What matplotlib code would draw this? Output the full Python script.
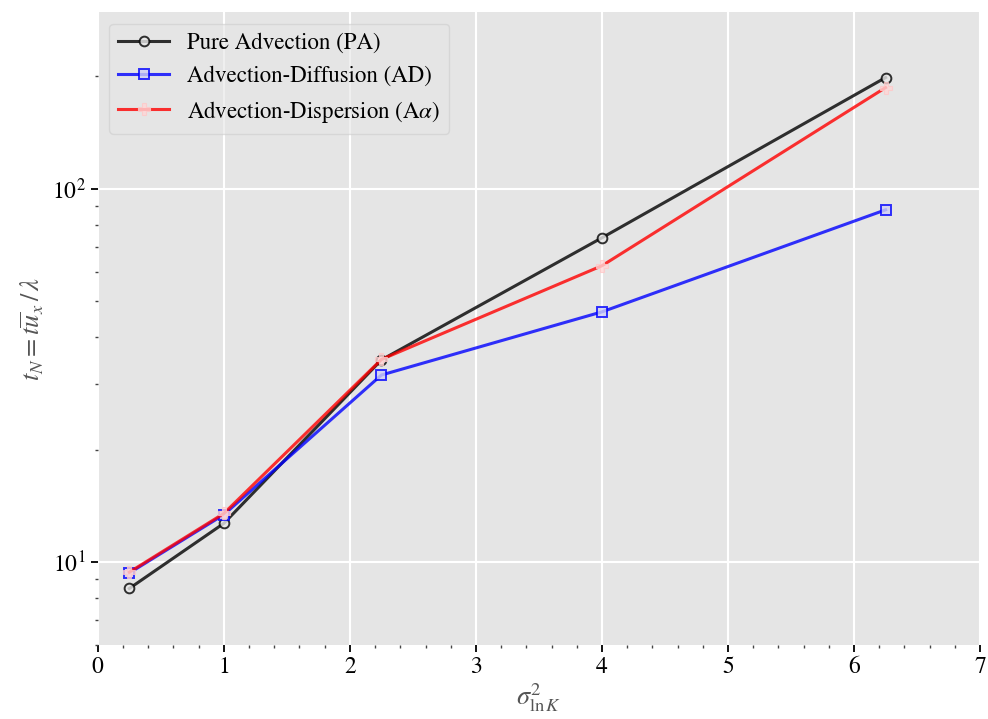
import matplotlib

matplotlib.use("Agg")
import matplotlib.pyplot as plt
from matplotlib.ticker import AutoMinorLocator, LogLocator, NullFormatter

plt.rcParams["font.family"] = ["STIXGeneral", "DejaVu Serif"]
plt.rcParams["mathtext.fontset"] = "stix"

fs = 17

sigma2 = [0.25, 1.0, 2.25, 4.0, 6.25]
t_pa = [8.5, 12.7, 34.8, 73.9, 198.5]
t_ad = [9.35, 13.4, 31.7, 46.8, 87.8]
t_aa = [9.4, 13.5, 34.9, 62.2, 186.6]

fig, ax = plt.subplots(figsize=(9.88, 7.19), dpi=100)
ax.set_facecolor("#e5e5e5")
for s in ax.spines.values():
    s.set_visible(False)
ax.grid(True, which="major", color="white", lw=1.5)
ax.set_axisbelow(True)

ax.plot(sigma2, t_pa, "-o", color="black", alpha=0.8, lw=2.2, ms=7,
        mfc="#e8e8e8", mec="black", mew=1.4, label="Pure Advection (PA)")
ax.plot(sigma2, t_ad, "-s", color="blue", alpha=0.8, lw=2.2, ms=7,
        mfc="#d0d0f5", mec="blue", mew=1.4, label="Advection-Diffusion (AD)")
ax.plot(sigma2, t_aa, "-P", color="red", alpha=0.8, lw=2.2, ms=8,
        mfc="#ffd6d6", mec="#ffc8c8", mew=0.8, label=r"Advection-Dispersion (A$\alpha$)")

ax.set_yscale("log")
ax.set_xlim(0, 7)
ax.set_ylim(6, 297)
ax.xaxis.set_minor_locator(AutoMinorLocator(5))
ax.yaxis.set_minor_locator(LogLocator(base=10, subs=range(2, 10)))
ax.yaxis.set_minor_formatter(NullFormatter())
ax.tick_params(which="major", length=5, width=1.3, color="black", labelsize=fs)
ax.tick_params(which="minor", length=2.5, width=1.0, color="#444444")

ax.set_xlabel(r"$\sigma^2_{\ln K}$", fontsize=fs + 2, color="#555555", labelpad=2)
ax.set_ylabel(r"$t_N = t\overline{u}_x\,/\,\lambda$", fontsize=fs + 2, color="#555555")

ax.legend(loc="upper left", fontsize=fs - 0.5, framealpha=0.6, facecolor="#e5e5e5",
          edgecolor="#cccccc", handlelength=2.2)

plt.subplots_adjust(left=0.099, right=0.992, top=0.983, bottom=0.103)
plt.savefig("out.png", dpi=100)
plt.close()
